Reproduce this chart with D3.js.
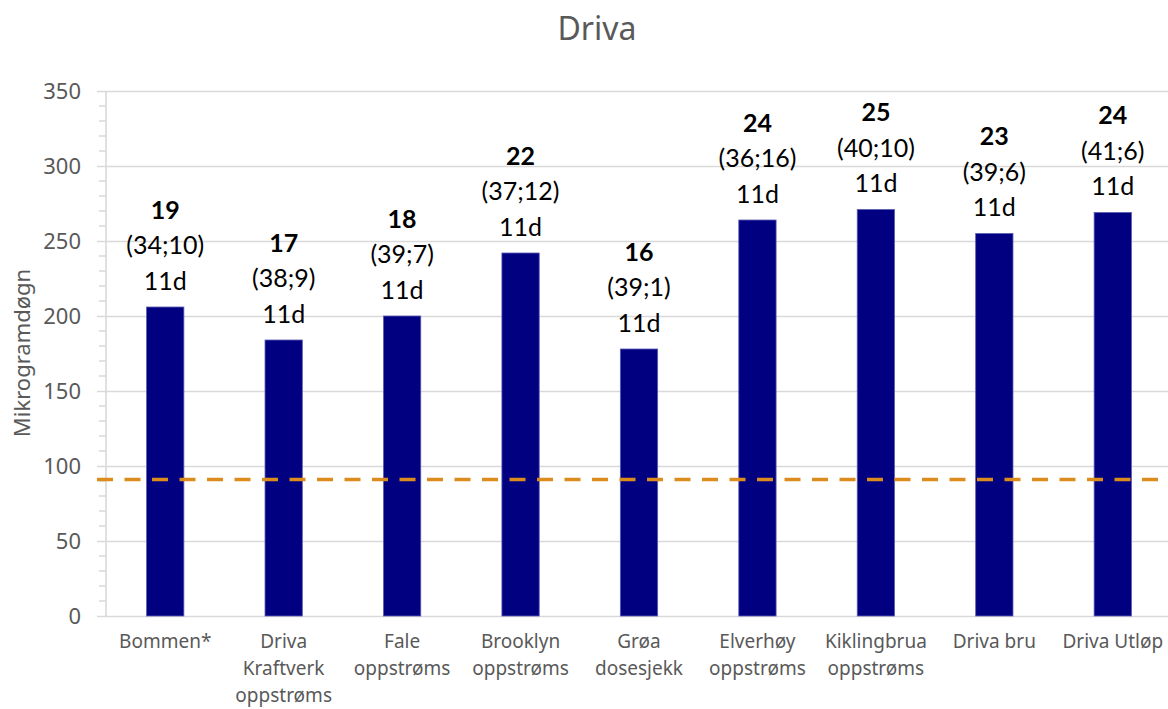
<!DOCTYPE html>
<html>
<head>
<meta charset="utf-8">
<script src="https://cdn.jsdelivr.net/npm/d3@7"></script>
<style>
  html, body { margin: 0; padding: 0; background: #fff; }
  svg { display: block; }
</style>
</head>
<body>
<svg id="chart" width="1168" height="709"></svg>
<script>
// Stations along Driva
const categories = [
  "Bommen*", "Driva Kraftverk oppstrøms", "Fale oppstrøms", "Brooklyn oppstrøms",
  "Grøa dosesjekk", "Elverhøy oppstrøms", "Kiklingbrua oppstrøms", "Driva bru", "Driva Utløp"
];
// Accumulated dose (mikrogramdøgn)
const doseValues = [206, 184, 200, 242, 178, 264, 271, 255, 269];
// Mean daily value, max and min, number of days
const meanValues = [19, 17, 18, 22, 16, 24, 25, 23, 24];
const maxValues = [34, 38, 39, 37, 39, 36, 40, 39, 41];
const minValues = [10, 9, 7, 12, 1, 16, 10, 6, 6];
const dayCounts = [11, 11, 11, 11, 11, 11, 11, 11, 11];
// Threshold line
const thresholdValue = 91;
const yTicks = [0, 50, 100, 150, 200, 250, 300, 350];

const svg = d3.select("#chart");
const W = 1168, H = 709;
const plotLeft = 106, plotRight = 1172, plotTop = 91, plotBottom = 616;

const x = d3.scaleBand().domain(categories).range([plotLeft, plotRight]).paddingInner(0.685).paddingOuter(0.3425);
const y = d3.scaleLinear().domain([0, 350]).range([plotBottom, plotTop]);

const grey = "#595959";
const gridCol = "#d9d9d9";

// Title
svg.append("text")
  .attr("x", 597).attr("y", 40)
  .attr("text-anchor", "middle")
  .attr("font-family", "Noto Sans")
  .attr("font-size", 32)
  .attr("fill", grey)
  .text("Driva");

// Minor ticks on the value axis
const minor = d3.range(0, 351, 10).filter(v => v % 50 !== 0);
svg.append("g").selectAll("line").data(minor).join("line")
  .attr("x1", 99).attr("x2", plotLeft)
  .attr("y1", d => y(d)).attr("y2", d => y(d))
  .attr("stroke", gridCol).attr("stroke-width", 1.5);

// Gridlines and value axis
const yAxis = d3.axisLeft(y).tickValues(yTicks).tickSize(-(W - 97)).tickPadding(0);
const gy = svg.append("g").attr("transform", `translate(97,0)`).call(yAxis);
gy.select(".domain").remove();
gy.selectAll(".tick line").attr("stroke", gridCol).attr("stroke-width", 1.6)
  .attr("x1", 0).attr("x2", W - 97);
gy.selectAll(".tick text")
  .attr("x", -16)
  .attr("dy", "0.35em")
  .attr("font-family", "Noto Sans")
  .attr("font-size", 22)
  .attr("fill", grey);

svg.append("line")
  .attr("x1", plotLeft).attr("x2", plotLeft)
  .attr("y1", plotTop).attr("y2", plotBottom)
  .attr("stroke", gridCol).attr("stroke-width", 1.6);

// Y axis title
svg.append("text")
  .attr("transform", `translate(30,353) rotate(-90)`)
  .attr("text-anchor", "middle")
  .attr("font-family", "Noto Sans")
  .attr("font-size", 22)
  .attr("fill", grey)
  .text("Mikrogramdøgn");

// Bars
svg.append("g").selectAll("rect").data(categories).join("rect")
  .attr("x", d => x(d))
  .attr("width", x.bandwidth())
  .attr("y", (d, i) => y(doseValues[i]))
  .attr("height", (d, i) => y(0) - y(doseValues[i]))
  .attr("fill", "#000080")
  .attr("stroke", "#5c5cb4")
  .attr("stroke-width", 0.8);

// Threshold line
svg.append("line")
  .attr("x1", 97).attr("x2", W)
  .attr("y1", y(thresholdValue)).attr("y2", y(thresholdValue))
  .attr("stroke", "#dc8c1c")
  .attr("stroke-width", 3.5)
  .attr("stroke-dasharray", "16,11.5");

// Data labels above bars
const lab = svg.append("g").selectAll("g").data(categories).join("g")
  .attr("transform", (d, i) => `translate(${x(d) + x.bandwidth() / 2},${y(doseValues[i]) - 26})`)
  .attr("font-family", "Lato")
  .attr("font-size", 25)
  .attr("text-anchor", "middle")
  .attr("fill", "#000");
lab.append("text").attr("y", -71).attr("dy", "0.35em").attr("font-weight", "bold")
  .text((d, i) => meanValues[i]);
lab.append("text").attr("y", -35.5).attr("dy", "0.35em")
  .text((d, i) => `(${maxValues[i]};${minValues[i]})`);
lab.append("text").attr("y", 0).attr("dy", "0.35em")
  .text((d, i) => `${dayCounts[i]}d`);

// Category labels, wrapped to the band width
const catG = svg.append("g");
categories.forEach(name => {
  const t = catG.append("text")
    .attr("x", x(name) + x.bandwidth() / 2)
    .attr("y", 648)
    .attr("text-anchor", "middle")
    .attr("font-family", "Noto Sans")
    .attr("font-size", 19)
    .attr("fill", grey);
  const words = name.split(" ");
  let lines = [], cur = [];
  const probe = t.append("tspan");
  words.forEach(w => {
    const trial = cur.concat(w).join(" ");
    probe.text(trial);
    if (cur.length && probe.node().getComputedTextLength() > 112) {
      lines.push(cur.join(" "));
      cur = [w];
    } else {
      cur.push(w);
    }
  });
  lines.push(cur.join(" "));
  probe.remove();
  lines.forEach((ln, k) => {
    t.append("tspan")
      .attr("x", x(name) + x.bandwidth() / 2)
      .attr("dy", k === 0 ? 0 : 27)
      .text(ln);
  });
});
</script>
</body>
</html>
